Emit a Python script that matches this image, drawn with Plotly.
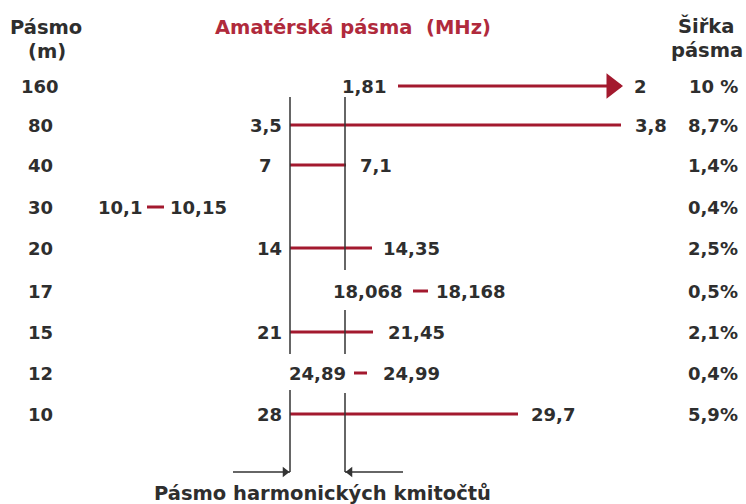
import plotly.graph_objects as go

# ---- data ----
bands_m = ["160", "80", "40", "30", "20", "17", "15", "12", "10"]
f_start = [1.81, 3.5, 7, 10.1, 14, 18.068, 21, 24.89, 28]
f_end = [2, 3.8, 7.1, 10.15, 14.35, 18.168, 21.45, 24.99, 29.7]
band_width = ["10 %", "8,7%", "1,4%", "0,4%", "2,5%", "0,5%", "2,1%", "0,4%", "5,9%"]

title_text = "Amatérská pásma  (MHz)"
col_left = ["Pásmo", "(m)"]
col_right = ["Šiřka", "pásma"]
bottom_text = "Pásmo harmonických kmitočtů"

# ---- schematic layout (pixel-like diagram coordinates) ----
row_y = [86, 125, 165, 207, 248, 291, 332, 373, 414]
start_lbl_x = [388, 284, 274, 144, 284, 404, 284, 348, 284]
seg_x0 = [398, 290, 290, 147, 290, 413, 290, 354, 290]
seg_x1 = [621, 621, 346, 164, 372, 428, 373, 367, 518]
end_lbl_x = [632, 633, 358, 168, 381, 434, 386, 381, 529]
pct_x = 740
band_x = 40

left_rail_x = 290
right_rail_x = 345
left_rail_segs = [(97, 354), (390, 472)]
right_rail_segs = [(97, 270), (310, 354), (393, 472)]
arrow_y = 472
left_arrow_from = 233
right_arrow_from = 403

RED = "#a3192e"
TXT = "#2e2e2e"
LINE = "#333333"
FONT = "DejaVu Sans"
NUM_SIZE = 18
HEAD_SIZE = 19.5


def fmt(v):
    return ("%g" % v).replace(".", ",")


fig = go.Figure()

# red band lines
for i in range(len(bands_m)):
    fig.add_trace(go.Scatter(
        x=[seg_x0[i], seg_x1[i]], y=[row_y[i], row_y[i]], mode="lines",
        line=dict(color=RED, width=3), hoverinfo="skip", showlegend=False))

# arrow head for the 160 m band
fig.add_trace(go.Scatter(
    x=[seg_x1[0] - 9], y=[row_y[0]], mode="markers",
    marker=dict(symbol="triangle-right", size=22, color=RED, line=dict(width=0)),
    hoverinfo="skip", showlegend=False))

# vertical rails
for (a, b) in left_rail_segs:
    fig.add_trace(go.Scatter(x=[left_rail_x, left_rail_x], y=[a, b], mode="lines",
                             line=dict(color=LINE, width=1.5), hoverinfo="skip", showlegend=False))
for (a, b) in right_rail_segs:
    fig.add_trace(go.Scatter(x=[right_rail_x, right_rail_x], y=[a, b], mode="lines",
                             line=dict(color=LINE, width=1.5), hoverinfo="skip", showlegend=False))

# bottom arrows
fig.add_trace(go.Scatter(x=[left_arrow_from, left_rail_x], y=[arrow_y, arrow_y], mode="lines",
                         line=dict(color=LINE, width=1.5), hoverinfo="skip", showlegend=False))
fig.add_trace(go.Scatter(x=[right_arrow_from, right_rail_x], y=[arrow_y, arrow_y], mode="lines",
                         line=dict(color=LINE, width=1.5), hoverinfo="skip", showlegend=False))
fig.add_trace(go.Scatter(x=[left_rail_x - 5, right_rail_x + 5], y=[arrow_y, arrow_y], mode="markers",
                         marker=dict(symbol=["triangle-right", "triangle-left"], size=9, color=LINE),
                         hoverinfo="skip", showlegend=False))

ann = []


def txt(x, y, t, xa="center", color=TXT, size=NUM_SIZE):
    ann.append(dict(x=x, y=y, xref="x", yref="y", text=t, showarrow=False,
                    xanchor=xa, yanchor="middle",
                    font=dict(family=FONT, size=size, color=color, weight="bold")))


for i in range(len(bands_m)):
    txt(band_x, row_y[i], bands_m[i])
    txt(start_lbl_x[i], row_y[i], fmt(f_start[i]), xa="right")
    txt(end_lbl_x[i], row_y[i], fmt(f_end[i]), xa="left")
    txt(pct_x, row_y[i], band_width[i], xa="right")

txt(46, 27, col_left[0], size=HEAD_SIZE)
txt(47, 51, col_left[1], size=HEAD_SIZE)
txt(706, 26, col_right[0], size=HEAD_SIZE)
txt(707, 50, col_right[1], size=HEAD_SIZE)
txt(353, 27, title_text, color="#b02a3c", size=HEAD_SIZE)
txt(322, 493, bottom_text, size=HEAD_SIZE)

fig.update_layout(
    width=746, height=504,
    margin=dict(l=0, r=0, t=0, b=0),
    paper_bgcolor="white", plot_bgcolor="white",
    xaxis=dict(range=[0, 746], visible=False, fixedrange=True),
    yaxis=dict(range=[504, 0], visible=False, fixedrange=True),
    annotations=ann,
    showlegend=False,
)

fig.write_html("out.html", post_script="document.body.style.margin='0';",
               config={"displayModeBar": False})
